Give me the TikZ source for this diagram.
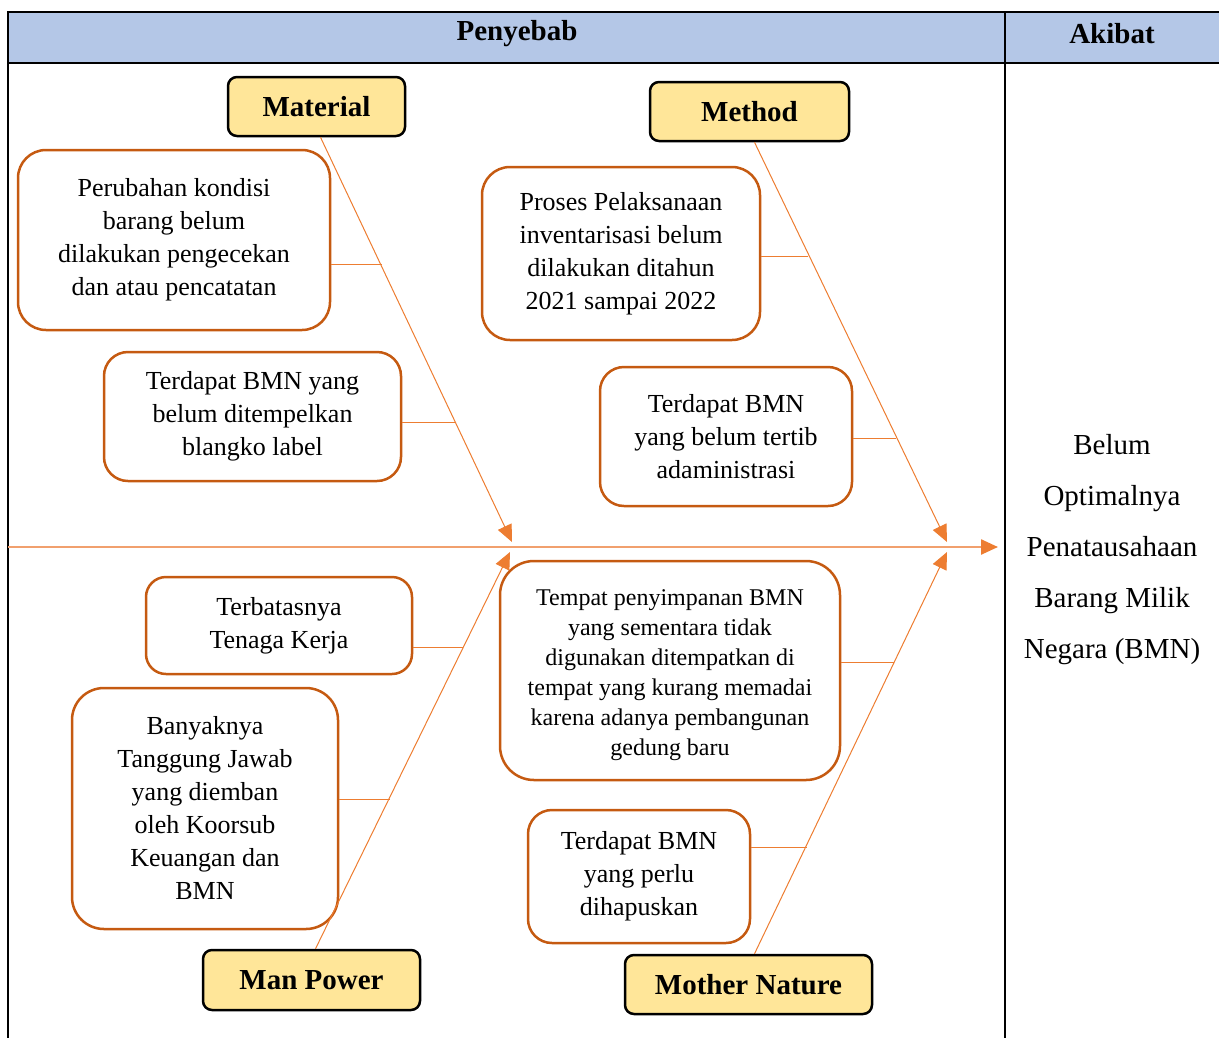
\documentclass[tikz,border=0pt]{standalone}
\usepackage{fontspec}
\setmainfont{Liberation Serif}
\usetikzlibrary{arrows.meta}
\definecolor{hdr}{HTML}{B4C7E7}
\definecolor{catfill}{HTML}{FFE699}
\definecolor{boxline}{HTML}{C55A11}
\definecolor{bonec}{HTML}{ED7D31}
\definecolor{spinec}{RGB}{241,160,110}
\tikzset{
  catbox/.style={draw=black, line width=2.5pt, fill=catfill, rounded corners=9pt,
    font=\fontsize{29}{34}\selectfont\bfseries, inner sep=0pt},
  causebox/.style={draw=boxline, line width=2.5pt, rounded corners=28pt, align=center,
    font=\fontsize{26}{33}\selectfont, inner sep=0pt},
  bone/.style={draw=bonec, line width=1pt},
  tip/.style={-{Triangle[length=17pt,width=15pt]}, bonec},
  tblline/.style={draw=black, line width=2.5pt}
}
\begin{document}
\begin{tikzpicture}[x=1pt,y=-1pt]
\useasboundingbox (0,0) rectangle (1219,1037);
% table
\fill[hdr] (8,12) rectangle (1230,63);
\draw[tblline] (1230,12) -- (8,12) -- (8,1050);
\draw[tblline] (8,63) -- (1230,63);
\draw[tblline] (1005,12) -- (1005,1050);
\node[font=\fontsize{29}{34}\selectfont\bfseries] (penyebab) at (517,34) {Penyebab};
\node[font=\fontsize{29}{34}\selectfont\bfseries] (akibat) at (1112,34) {Akibat};
% effect
\node[align=center, font=\fontsize{29}{51}\selectfont] (effect) at (1112,550)
  {Belum\\Optimalnya\\Penatausahaan\\Barang Milik\\Negara (BMN)};
% categories
\node[catbox, minimum width=177pt, minimum height=59pt] (material) at (316.5,106.5) {Material};
\node[catbox, minimum width=199pt, minimum height=59pt] (method) at (749.5,111.5) {Method};
\node[catbox, minimum width=217pt, minimum height=60pt] (manpower) at (311.5,980) {Man Power};
\node[catbox, minimum width=247pt, minimum height=59pt] (mother) at (748.5,984.5) {Mother Nature};
% causes
\node[causebox, minimum width=312pt, minimum height=180pt] (c1) at (174,240)
  {Perubahan kondisi\\barang belum\\dilakukan pengecekan\\dan atau pencatatan};
\node[causebox, minimum width=297pt, minimum height=129pt, rounded corners=24pt] (c2) at (252.5,416.5)
  {Terdapat BMN yang\\belum ditempelkan\\blangko label};
\node[causebox, minimum width=278pt, minimum height=173pt] (c3) at (621,253.5)
  {Proses Pelaksanaan\\inventarisasi belum\\dilakukan ditahun\\2021 sampai 2022};
\node[causebox, minimum width=252pt, minimum height=139pt, rounded corners=24pt] (c4) at (726,436.5)
  {Terdapat BMN\\yang belum tertib\\adaministrasi};
\node[causebox, minimum width=266pt, minimum height=97pt, rounded corners=20pt] (c5) at (279,625.5)
  {Terbatasnya\\Tenaga Kerja};
\node[causebox, minimum width=266pt, minimum height=241pt, rounded corners=32pt] (c6) at (205,808.5)
  {Banyaknya\\Tanggung Jawab\\yang diemban\\oleh Koorsub\\Keuangan dan\\BMN};
\node[causebox, minimum width=340pt, minimum height=219pt, rounded corners=34pt,
  font=\fontsize{24}{30}\selectfont] (c7) at (670,670.5)
  {\parbox{330pt}{\centering\vspace*{10pt}Tempat penyimpanan BMN\\yang sementara tidak\\digunakan ditempatkan di\\tempat yang kurang memadai\\karena adanya pembangunan\\gedung baru}};
\node[causebox, minimum width=222pt, minimum height=133pt, rounded corners=24pt] (c8) at (639,876.5)
  {Terdapat BMN\\yang perlu\\dihapuskan};
% spine
\coordinate (spinestart) at (8,547);
\coordinate (head) at (998,547);
\draw[spinec, line width=2.4pt, -{Triangle[length=17pt,width=15pt,color=bonec]}] (spinestart) -- (head);
% main bones
\coordinate (t1) at (512,542);
\coordinate (t2) at (510,552);
\coordinate (t3) at (947,542);
\coordinate (t4) at (947,552);
\draw[bone, tip] ([xshift=4pt]material.south) -- (t1);
\draw[bone, tip] ([xshift=4pt]manpower.north) -- (t2);
\draw[bone, tip] ([xshift=5pt]method.south) -- (t3);
\draw[bone, tip] ([xshift=6pt]mother.north) -- (t4);
% sub bones
\coordinate (j1) at (382,264);
\coordinate (j2) at (455,422);
\coordinate (j3) at (463,647);
\coordinate (j4) at (390,799);
\coordinate (j5) at (808,256);
\coordinate (j6) at (896,438);
\coordinate (j7) at (894,662);
\coordinate (j8) at (807,847);
\draw[bone] (c1.east |- j1) -- (j1);
\draw[bone] (c2.east |- j2) -- (j2);
\draw[bone] (c5.east |- j3) -- (j3);
\draw[bone] (c6.east |- j4) -- (j4);
\draw[bone] (c3.east |- j5) -- (j5);
\draw[bone] (c4.east |- j6) -- (j6);
\draw[bone] (c7.east |- j7) -- (j7);
\draw[bone] (c8.east |- j8) -- (j8);
\end{tikzpicture}
\end{document}
